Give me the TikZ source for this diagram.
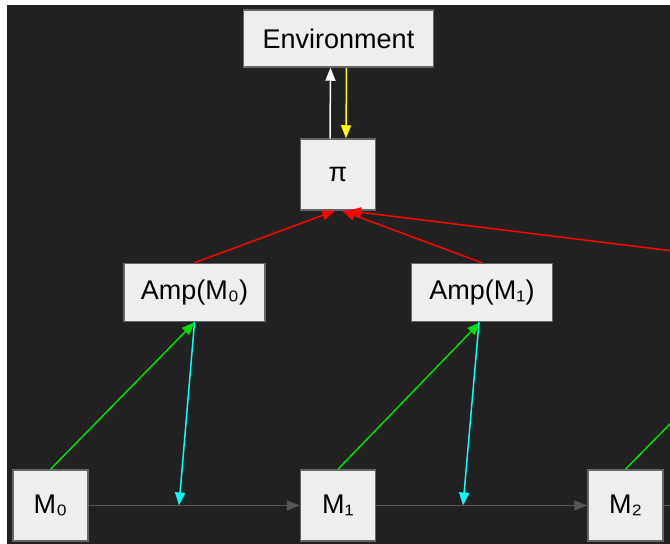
\documentclass[tikz,border=0pt]{standalone}
\usepackage{fontspec}
\setmainfont{Liberation Sans}
\usetikzlibrary{arrows.meta}

\definecolor{bg}{HTML}{212121}
\definecolor{boxfill}{HTML}{EEEEEE}
\definecolor{boxline}{HTML}{666666}
\definecolor{flow}{HTML}{555555}
\definecolor{grn}{HTML}{00DD00}
\definecolor{cyn}{HTML}{00FFFF}
\definecolor{ylw}{HTML}{FFFF00}
\definecolor{rd}{HTML}{FF0000}

\begin{document}
\begin{tikzpicture}[x=1pt,y=-1pt,
  box/.style={draw=boxline,fill=boxfill,line width=1.5pt,inner sep=0pt,
    font=\fontsize{27}{32}\selectfont},
  link/.style={line width=1.5pt,-{Triangle[length=13pt,width=10pt]}}]

\useasboundingbox (0,0) rectangle (670,544);
\clip (0,0) rectangle (670,544);
\fill[bg] (7,5) rectangle (670,544);

\node[box,minimum width=190,minimum height=57] (env) at (338.5,38.5) {Environment};
\node[box,minimum width=75,minimum height=71] (pi) at (338,174.5) {π};

\node[box,minimum width=141,minimum height=58] (amp0) at (194.5,292.5) {Amp(M₀)};
\node[box,minimum width=141,minimum height=58] (amp1) at (482,292.5) {Amp(M₁)};

\node[box,minimum width=75,minimum height=71] (m0) at (50.5,505.5) {M₀};
\node[box,minimum width=75,minimum height=71] (m1) at (338,505.5) {M₁};
\node[box,minimum width=75,minimum height=71] (m2) at (625.5,505.5) {M₂};

\coordinate (j0) at (179,505.5);
\coordinate (j1) at (463,505.5);
\coordinate (amp2) at (770,263);
\coordinate (amp2s) at (770,322);
\coordinate (m3) at (720,505.5);

\draw[link,white] ([xshift=-8]pi.north) -- ([xshift=-8]env.south);
\draw[link,ylw] ([xshift=8]env.south) -- ([xshift=8]pi.north);

\draw[link,rd] (amp0.north) -- ([xshift=-3]pi.south);
\draw[link,rd] (amp1.north) -- ([xshift=4]pi.south);
\draw[link,rd] (amp2) -- ([xshift=10]pi.south);

\draw[link,grn] (m0.north) -- (amp0.south);
\draw[link,cyn] (amp0.south) -- (j0);
\draw[link,grn] (m1.north) -- ([xshift=-2]amp1.south);
\draw[link,cyn] ([xshift=-3]amp1.south) -- (j1);
\draw[link,grn] (m2.north) -- (amp2s);

\draw[link,flow] (m0.east) -- (m1.west);
\draw[link,flow] (m1.east) -- (m2.west);
\draw[link,flow] (m2.east) -- (m3);

\end{tikzpicture}
\end{document}
